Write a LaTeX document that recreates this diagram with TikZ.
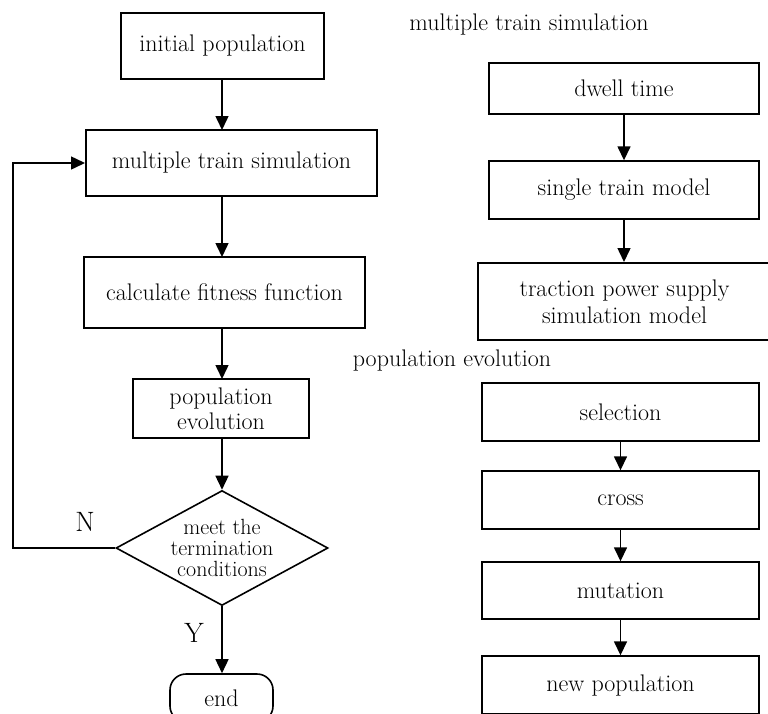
\documentclass[tikz,border=0pt]{standalone}
\usepackage{fontspec}
\usetikzlibrary{arrows.meta,shapes.geometric}
\begin{document}
\begin{tikzpicture}[x=1pt,y=-1pt,
  every node/.style={font=\fontsize{24}{25}\selectfont},
  lbox/.style={draw,line width=2pt,inner sep=0pt,align=center},
  rbox/.style={draw,line width=1.4pt,inner sep=0pt,align=center},
  conn/.style={line width=1.5pt,-{Triangle[length=14pt,width=13pt]}}]
\useasboundingbox (0,0) rectangle (768,713);
% left column
\node[lbox,minimum width=203pt,minimum height=66pt] (init) at (222.5,46) {initial population};
\node[lbox,minimum width=291pt,minimum height=66pt] (mts) at (231.5,163) {multiple train simulation};
\node[lbox,minimum width=281pt,minimum height=71pt] (calc) at (224.5,292.5) {calculate fitness function};
\node[rbox,line width=1.6pt,minimum width=176pt,minimum height=59pt] (pe) at (221,408.5) {population\\evolution};
\node[draw,diamond,line width=1.6pt,inner sep=0pt,aspect=1.84,minimum width=212pt,minimum height=115pt,align=center,font=\fontsize{22}{21}\selectfont] (dec) at (222,548) {meet the\\termination\\conditions};
\node[draw,line width=1.6pt,rounded corners=16pt,minimum width=103pt,minimum height=48pt] (end) at (221.5,698) {end};
\node[font=\fontsize{28}{30}\selectfont] (nlab) at (85,522) {N};
\node[font=\fontsize{28}{30}\selectfont] (ylab) at (194,633) {Y};
\coordinate (fb1) at (13,548);
\coordinate (fb2) at (13,163);
\draw[conn] (222,79) -- (222,130);
\draw[conn] (222,196) -- (222,257);
\draw[conn] (222,328) -- (222,379);
\draw[conn] (pe.south -| dec.north) -- (dec.north);
\draw[conn] (dec.south) -- (dec.south |- end.north);
\draw[conn] (dec.west) -- (fb1) -- (fb2) -- (mts.west);
% right column
\node (lab1) at (529,25) {multiple train simulation};
\node[rbox,minimum width=270pt,minimum height=51pt] (dwell) at (624,88.5) {dwell time};
\node[rbox,minimum width=270pt,minimum height=58pt] (stm) at (624,190) {single train model};
\node[lbox,minimum width=293pt,minimum height=77pt,font=\fontsize{24}{27}\selectfont] (tps) at (624.5,301.5) {traction power supply\\simulation model};
\node (lab2) at (452,361) {population evolution};
\node[rbox,minimum width=277pt,minimum height=58pt] (sel) at (620.5,412) {selection};
\node[rbox,minimum width=277pt,minimum height=58pt] (cross) at (620.5,500) {cross};
\node[rbox,minimum width=277pt,minimum height=57pt] (mut) at (620.5,590.5) {mutation};
\node[rbox,minimum width=277pt,minimum height=58pt] (newp) at (620.5,685) {new population};
\draw[conn] (dwell.south) -- (stm.north);
\draw[conn] (stm.south) -- (tps.north -| stm.south);
\draw[conn] (sel.south) -- (cross.north);
\draw[conn] (cross.south) -- (mut.north);
\draw[conn] (mut.south) -- (newp.north);
\end{tikzpicture}
\end{document}
